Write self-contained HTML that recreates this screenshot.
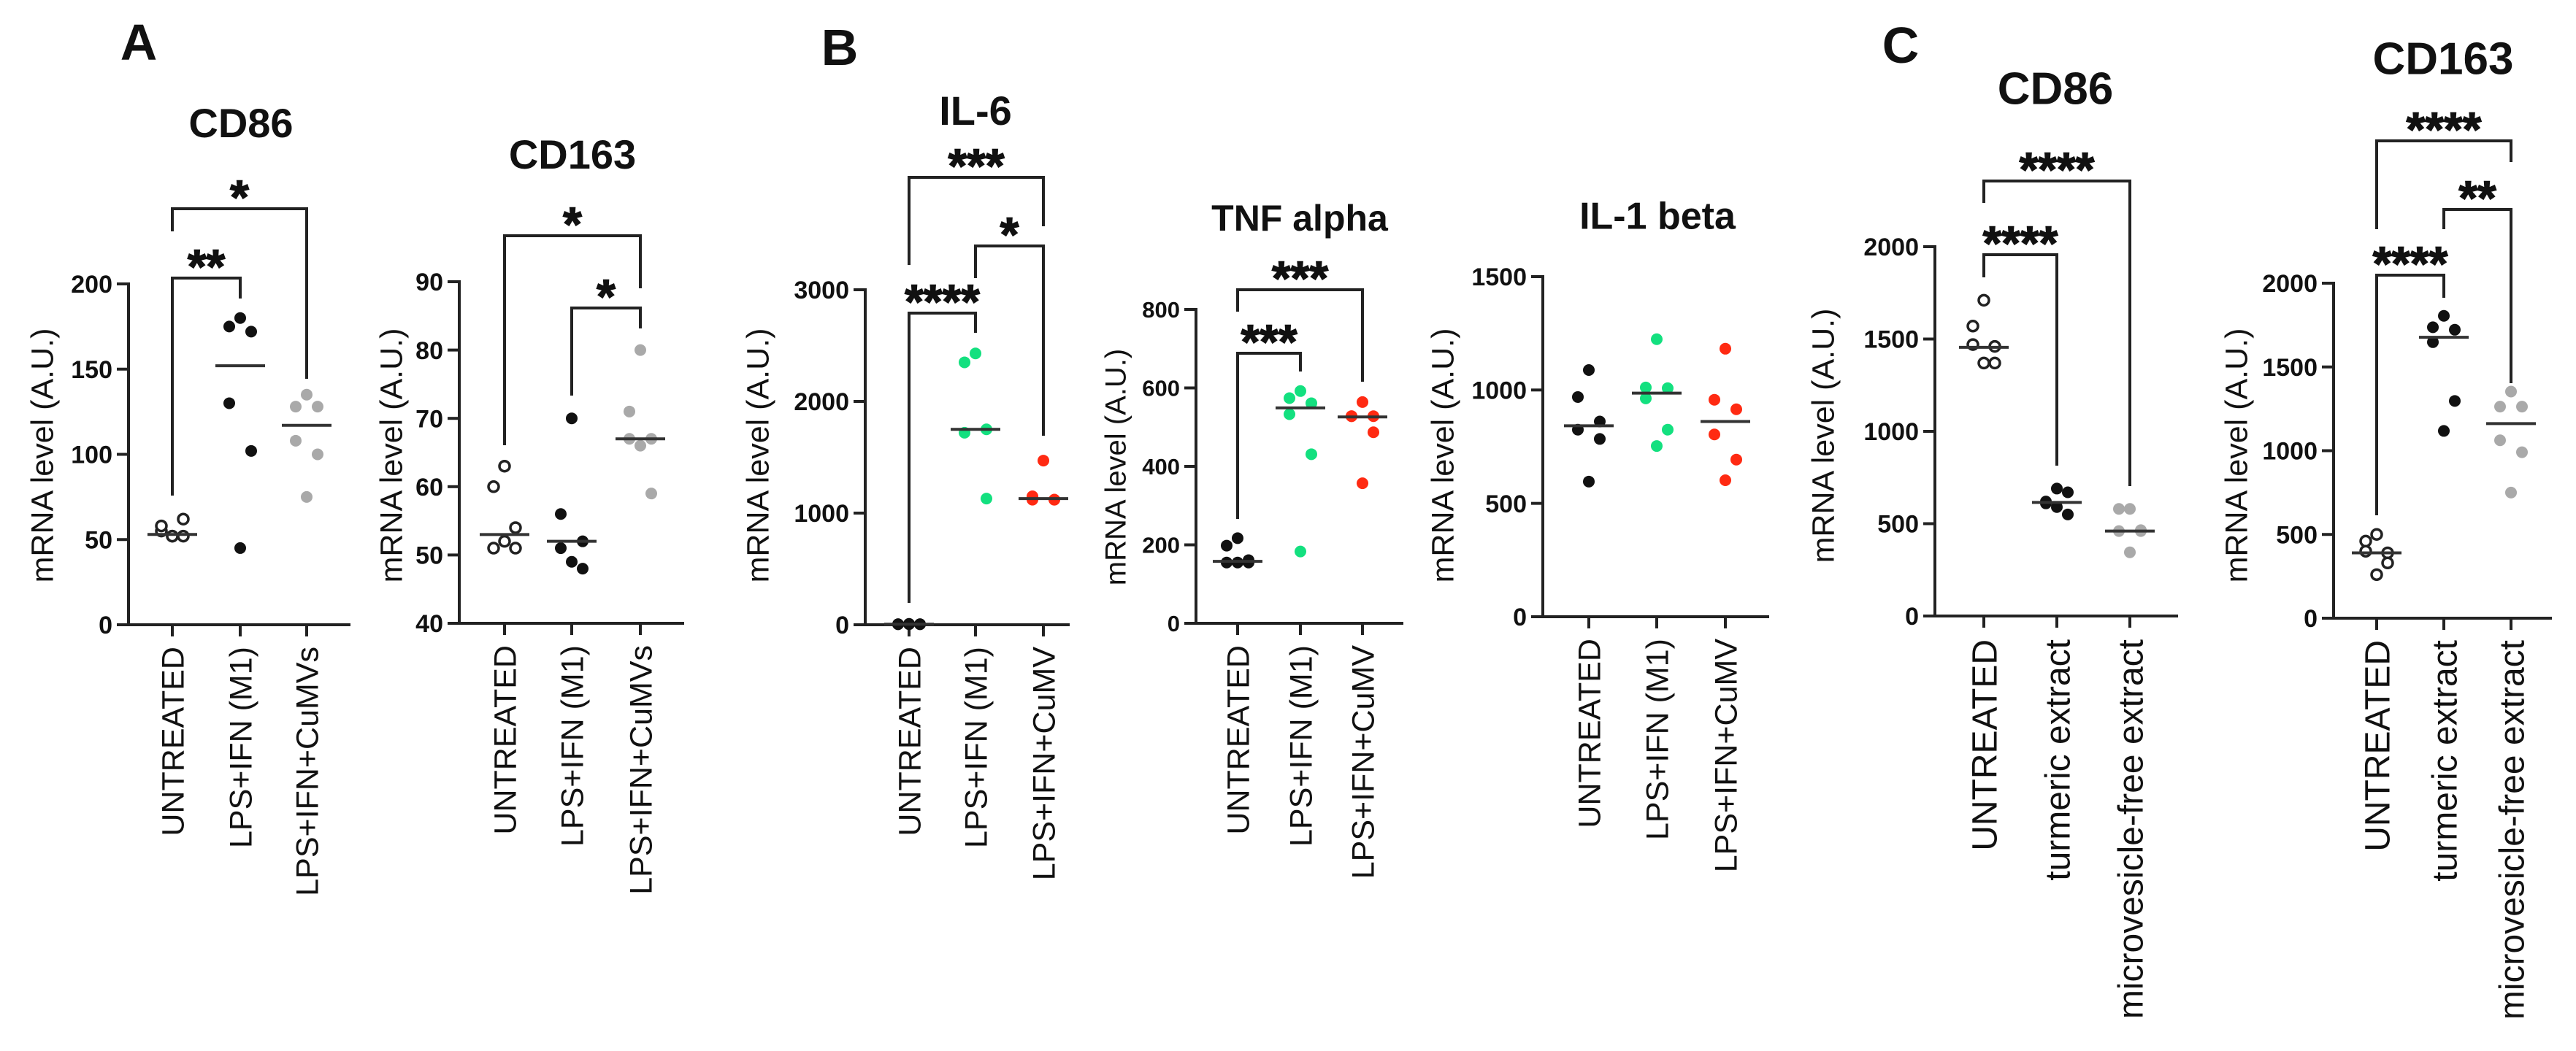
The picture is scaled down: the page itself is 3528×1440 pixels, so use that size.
<!DOCTYPE html>
<html><head><meta charset="utf-8">
<style>
html,body{margin:0;padding:0;background:#fff;}
svg{display:block;font-family:"Liberation Sans",Arial,sans-serif;}
</style></head>
<body>
<svg id="fig" xmlns="http://www.w3.org/2000/svg" width="3528" height="1440" viewBox="0 0 3528 1440"></svg>
<script>
// ---------- data ----------
const catsA = ["UNTREATED","LPS+IFN (M1)","LPS+IFN+CuMVs"];
const catsB = ["UNTREATED","LPS+IFN (M1)","LPS+IFN+CuMV"];
const catsC = ["UNTREATED","turmeric extract","microvesicle-free extract"];

const aCD86_untreated = [52,55,62,58,52,52];
const aCD86_m1 = [180,175,172,130,102,45];
const aCD86_cumv = [135,128,128,108,100,75];
const aCD86_medians = [53,152,117];
const aCD86_ticks = [0,50,100,150,200];

const aCD163_untreated = [63,60,54,51,51,52];
const aCD163_m1 = [70,56,52,51,48,49];
const aCD163_cumv = [80,71,67,67,59,66];
const aCD163_medians = [53,52,67];
const aCD163_ticks = [40,50,60,70,80,90];

const il6_untreated = [8,5,5,5,5,5];
const il6_m1 = [2430,2350,1750,1720,1130];
const il6_cumv = [1470,1150,1120,1120,1120];
const il6_medians = [5,1750,1130];
const il6_ticks = [0,1000,2000,3000];

const tnf_untreated = [217,198,161,155,155,155];
const tnf_m1 = [592,574,561,533,431,183];
const tnf_cumv = [564,528,528,528,487,357];
const tnf_medians = [158,549,526];
const tnf_ticks = [0,200,400,600,800];

const il1_untreated = [1088,969,861,825,784,596];
const il1_m1 = [1224,1011,1008,963,825,753];
const il1_cumv = [1182,957,915,804,693,602];
const il1_medians = [842,986,861];
const il1_ticks = [0,500,1000,1500];

const cCD86_untreated = [1710,1570,1460,1470,1370,1370];
const cCD86_turmeric = [690,610,550,620,670,590];
const cCD86_mvfree = [580,580,460,460,465,345];
const cCD86_medians = [1455,615,460];
const cCD86_ticks = [0,500,1000,1500,2000];

const cCD163_untreated = [500,460,390,400,330,260];
const cCD163_turmeric = [1805,1737,1722,1648,1297,1118];
const cCD163_mvfree = [1353,1263,1263,1062,991,750];
const cCD163_medians = [390,1677,1162];
const cCD163_ticks = [0,500,1000,1500,2000];

// ---------- drawing ----------
const NS="http://www.w3.org/2000/svg";
const svg=document.getElementById('fig');
function mk(tag,attrs,parent){const e=document.createElementNS(NS,tag);for(const k in attrs)e.setAttribute(k,attrs[k]);(parent||svg).appendChild(e);return e;}
const JIT=[0,-15,15,-15,15,0];
const GREEN="#13e07f", RED="#ff2a12", GREY="#a9a9a9";

function panel(p){
  const g=mk('g',{});
  
  
  const ymin=p.ticks[0], ymax=p.ticks[p.ticks.length-1];
  const y=v=>p.y0+(v-ymin)/(ymax-ymin)*(p.yTop-p.y0);
  const x=i=>p.cx[i];
  // axes
  const ya=mk('line',{x1:p.ax,y1:y(ymax)-2,x2:p.ax,y2:p.y0+2,stroke:'#222','stroke-width':4},g);
  
  
  const xa=mk('line',{x1:p.ax-16,y1:p.y0,x2:p.xend,y2:p.y0,stroke:'#222','stroke-width':4},g);
  
  
  p.ticks.forEach(t=>{
    mk('line',{x1:p.ax-16,y1:y(t),x2:p.ax,y2:y(t),stroke:'#222','stroke-width':4},g);
    const tl=mk('text',{x:p.ax-22,y:y(t)+p.tfs*0.36,'text-anchor':'end','font-size':p.tfs,'font-weight':'bold',fill:'#111'},g);
    tl.textContent=t;
    
    
  });
  // categories
  p.cats.forEach((c,i)=>{
    mk('line',{x1:x(i),y1:p.y0,x2:x(i),y2:p.y0+16,stroke:'#222','stroke-width':4},g);
    const t=mk('text',{x:0,y:0,transform:`translate(${x(i)+p.xfs*0.36},${p.y0+p.xlab}) rotate(-90)`,'text-anchor':'end','font-size':p.xfs,fill:'#111'},g);
    t.textContent=c;
    
    
  });
  // title & y label
  const ti=mk('text',{x:p.tx,y:p.ty+p.tsz*0.36,'text-anchor':'middle','font-size':p.tsz,'font-weight':'bold',fill:'#111'},g);
  ti.textContent=p.title;
  
  
  const yl=mk('text',{x:0,y:0,transform:`translate(${p.ylx+p.yfs*0.36},${p.yly}) rotate(-90)`,'text-anchor':'middle','font-size':p.yfs,fill:'#111'},g);
  yl.textContent="mRNA level (A.U.)";
  
  
  // points
  p.series.forEach((s,i)=>{
    s.vals.forEach((v,j)=>{
      const px=x(i)+JIT[j%6], py=y(v);
      let c;
      if(s.open) c=mk('circle',{cx:px,cy:py,r:7,fill:'#fff',stroke:'#222','stroke-width':3.5},g);
      else c=mk('circle',{cx:px,cy:py,r:8,fill:s.color},g);
      
      
    });
    const m=mk('line',{x1:x(i)-34,y1:y(p.medians[i]),x2:x(i)+34,y2:y(p.medians[i]),stroke:'#333','stroke-width':4},g);
    
    
  });
  // brackets: [i, j, barY, leftLegBottom, rightLegBottom, label, starX]
  p.brackets.forEach(b=>{
    const pl=mk('polyline',{points:`${x(b[0])},${b[3]} ${x(b[0])},${b[2]} ${x(b[1])},${b[2]} ${x(b[1])},${b[4]}`,fill:'none',stroke:'#222','stroke-width':4},g);
    
    
    const st=mk('text',{x:(x(b[0])+x(b[1]))/2,y:b[2]-33+40,'text-anchor':'middle','font-size':66,'font-weight':'bold',fill:'#111',stroke:'#111','stroke-width':1.5},g);
    st.textContent=b[5];
    
    
  });
}

const letters=[["A",190,57],["B",1150,64],["C",2603,61]];
letters.forEach(l=>{
  const t=mk('text',{x:l[1],y:l[2]+25,'text-anchor':'middle','font-size':70,'font-weight':'bold',fill:'#111'});
  t.textContent=l[0];
  
  
});

panel({name:'panel-a-cd86',title:'CD86',tx:330,ty:168,tsz:56,ax:176,xend:480,y0:856,yTop:389,ticks:aCD86_ticks,tfs:34,
  cx:[236,329,420],cats:catsA,xfs:43,xlab:30,ylx:57,yly:624,yfs:43,
  series:[{vals:aCD86_untreated,open:true},{vals:aCD86_m1,color:'#111'},{vals:aCD86_cumv,color:GREY}],medians:aCD86_medians,
  brackets:[[0,1,381,679,409,'**'],[0,2,286,317,519,'*']]});
panel({name:'panel-a-cd163',title:'CD163',tx:784,ty:211,tsz:56,ax:629,xend:937,y0:854,yTop:386,ticks:aCD163_ticks,tfs:34,
  cx:[691,783,877],cats:catsA,xfs:43,xlab:30,ylx:535,yly:624,yfs:43,
  series:[{vals:aCD163_untreated,open:true},{vals:aCD163_m1,color:'#111'},{vals:aCD163_cumv,color:GREY}],medians:aCD163_medians,
  brackets:[[0,2,323,610,395,'*'],[1,2,422,542,450,'*']]});
panel({name:'panel-b-il6',title:'IL-6',tx:1336,ty:151,tsz:56,ax:1185,xend:1465,y0:856,yTop:397,ticks:il6_ticks,tfs:34,
  cx:[1245,1336,1429],cats:catsB,xfs:43,xlab:30,ylx:1037,yly:624,yfs:43,
  series:[{vals:il6_untreated,color:'#111'},{vals:il6_m1,color:GREEN},{vals:il6_cumv,color:RED}],medians:il6_medians,
  brackets:[[0,2,243,363,310,'***'],[1,2,337,381,597,'*'],[0,1,429,826,456,'****']]});
panel({name:'panel-b-tnf-alpha',title:'TNF alpha',tx:1780,ty:298,tsz:50,ax:1638,xend:1922,y0:854,yTop:424,ticks:tnf_ticks,tfs:31,
  cx:[1695,1781,1866],cats:catsB,xfs:43,xlab:30,ylx:1527,yly:640,yfs:40,
  series:[{vals:tnf_untreated,color:'#111'},{vals:tnf_m1,color:GREEN},{vals:tnf_cumv,color:RED}],medians:tnf_medians,
  brackets:[[0,1,484,711,509,'***'],[0,2,397,427,523,'***']]});
panel({name:'panel-b-il1-beta',title:'IL-1 beta',tx:2270,ty:295,tsz:52,ax:2113,xend:2423,y0:845,yTop:379,ticks:il1_ticks,tfs:34,
  cx:[2176,2269,2363],cats:catsB,xfs:43,xlab:30,ylx:1975,yly:624,yfs:43,
  series:[{vals:il1_untreated,color:'#111'},{vals:il1_m1,color:GREEN},{vals:il1_cumv,color:RED}],medians:il1_medians,
  brackets:[]});
panel({name:'panel-c-cd86',title:'CD86',tx:2815,ty:120,tsz:62,ax:2650,xend:2983,y0:844,yTop:338,ticks:cCD86_ticks,tfs:34,
  cx:[2717,2817,2917],cats:catsC,xfs:48,xlab:32,ylx:2496,yly:597,yfs:43,
  series:[{vals:cCD86_untreated,open:true},{vals:cCD86_turmeric,color:'#111'},{vals:cCD86_mvfree,color:GREY}],medians:cCD86_medians,
  brackets:[[0,1,349,380,638,'****'],[0,2,248,278,666,'****']]});
panel({name:'panel-c-cd163',title:'CD163',tx:3346,ty:79,tsz:62,ax:3196,xend:3495,y0:847,yTop:388,ticks:cCD163_ticks,tfs:34,
  cx:[3255,3347,3439],cats:catsC,xfs:48,xlab:30,ylx:3062,yly:624,yfs:43,
  series:[{vals:cCD163_untreated,open:true},{vals:cCD163_turmeric,color:'#111'},{vals:cCD163_mvfree,color:GREY}],medians:cCD163_medians,
  brackets:[[0,1,377,706,408,'****'],[1,2,287,314,525,'**'],[0,2,193,314,222,'****']]});
</script>
</body></html>
